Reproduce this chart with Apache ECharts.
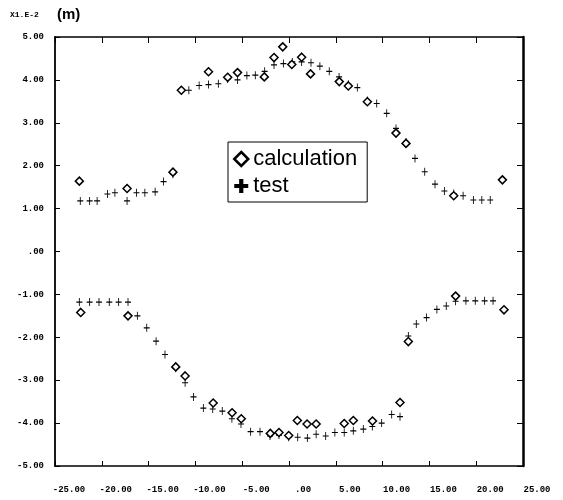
<!DOCTYPE html>
<html>
<head>
<meta charset="utf-8">
<script src="https://cdn.jsdelivr.net/npm/echarts@6/dist/echarts.min.js"></script>
<style>html,body{margin:0;padding:0;background:#fff}#c{width:563px;height:500px}</style>
</head>
<body>
<div id="c"></div>
<script>
// ---- data (x in axis units, y in X1.E-2 m) ----
var calcUpperX = [-22.4, -17.3, -12.4, -11.5, -8.6, -6.55, -5.5, -2.64, -1.6, -0.67, 0.3, 1.35, 2.3, 5.37, 6.34, 8.37, 11.43, 12.5, 17.6, 22.8];
var calcUpperY = [1.64, 1.47, 1.85, 3.76, 4.19, 4.06, 4.17, 4.07, 4.52, 4.77, 4.36, 4.53, 4.14, 3.96, 3.86, 3.49, 2.76, 2.52, 1.30, 1.67];
var calcLowerX = [-22.25, -17.2, -12.1, -11.1, -8.1, -6.08, -5.1, -2.0, -1.07, -0.03, 0.89, 1.93, 2.9, 5.9, 6.87, 8.92, 11.86, 12.75, 17.8, 22.97];
var calcLowerY = [-1.42, -1.50, -2.69, -2.90, -3.53, -3.76, -3.90, -4.24, -4.22, -4.29, -3.94, -4.02, -4.02, -4.01, -3.94, -3.95, -3.52, -2.10, -1.04, -1.36];
var testUpperX = [-22.3, -21.3, -20.5, -19.4, -18.6, -17.3, -16.3, -15.4, -14.3, -13.4, -12.4, -11.5, -10.7, -9.6, -8.6, -7.55, -6.55, -5.5, -4.5, -3.6, -2.6, -1.6, -0.6, 0.35, 1.35, 2.35, 3.3, 4.3, 5.35, 6.34, 7.3, 8.37, 9.37, 10.44, 11.43, 12.5, 13.46, 14.5, 15.6, 16.6, 17.6, 18.6, 19.7, 20.6, 21.5];
var testUpperY = [1.18, 1.18, 1.18, 1.34, 1.37, 1.18, 1.37, 1.37, 1.39, 1.63, 1.80, 3.76, 3.76, 3.87, 3.89, 3.91, 4.02, 4.00, 4.10, 4.11, 4.20, 4.35, 4.38, 4.42, 4.42, 4.40, 4.32, 4.20, 4.07, 3.90, 3.82, 3.52, 3.45, 3.22, 2.87, 2.55, 2.17, 1.86, 1.57, 1.41, 1.35, 1.30, 1.20, 1.20, 1.20];
var testLowerX = [-22.4, -21.3, -20.3, -19.2, -18.2, -17.2, -16.2, -15.2, -14.2, -13.25, -12.1, -11.1, -10.2, -9.15, -8.15, -7.13, -6.1, -5.13, -4.1, -3.1, -2.03, -1.07, -0.03, 0.93, 1.96, 2.9, 3.92, 4.9, 5.9, 6.87, 7.94, 8.9, 9.9, 10.97, 11.86, 12.75, 13.6, 14.7, 15.8, 16.8, 17.8, 18.9, 19.9, 20.9, 21.8];
var testLowerY = [-1.18, -1.18, -1.18, -1.18, -1.18, -1.18, -1.50, -1.78, -2.09, -2.40, -2.72, -3.06, -3.39, -3.65, -3.67, -3.72, -3.90, -4.02, -4.20, -4.20, -4.30, -4.28, -4.33, -4.33, -4.35, -4.26, -4.30, -4.22, -4.22, -4.18, -4.14, -4.08, -4.00, -3.80, -3.85, -1.97, -1.69, -1.54, -1.35, -1.27, -1.16, -1.15, -1.15, -1.15, -1.15];
var seriesNames = ['calculation', 'test'];

function pairs(xs, ys) { return xs.map(function (x, i) { return [x, ys[i]]; }); }
var calcData = pairs(calcUpperX, calcUpperY).concat(pairs(calcLowerX, calcLowerY));
var testData = pairs(testUpperX, testUpperY).concat(pairs(testLowerX, testLowerY));

function fmt(v) { return v === 0 ? '.00' : v.toFixed(2); }
var plusThin = 'path://M4.3,0 L5.7,0 L5.7,4.3 L10,4.3 L10,5.7 L5.7,5.7 L5.7,10 L4.3,10 L4.3,5.7 L0,5.7 L0,4.3 L4.3,4.3 Z';
var plusBold = 'path://M3.5,0 L6.5,0 L6.5,3.5 L10,3.5 L10,6.5 L6.5,6.5 L6.5,10 L3.5,10 L3.5,6.5 L0,6.5 L0,3.5 L3.5,3.5 Z';
var labelFont = { color: '#000', fontFamily: 'Liberation Mono', fontWeight: 'bold', fontSize: 9 };

var chart = echarts.init(document.getElementById('c'));
chart.setOption({
  backgroundColor: '#fff',
  animation: false,
  grid: { left: 55, right: 40, top: 37, bottom: 34 },
  graphic: [
    { type: 'text', left: 10, top: 11, style: { text: 'X1.E-2', fill: '#000', font: 'bold 8px "Liberation Mono"' } },
    { type: 'text', left: 57, top: 7, style: { text: '(m)', fill: '#000', font: 'bold 15px "Liberation Sans"' } }
  ],
  legend: {
    orient: 'vertical', left: 228, top: 142,
    backgroundColor: '#fff', borderColor: '#000', borderWidth: 1,
    padding: [6, 10, 5, 5], itemGap: 5, itemWidth: 14, itemHeight: 14,
    textStyle: { color: '#000', fontFamily: 'Liberation Sans', fontSize: 22 },
    data: [
      { name: seriesNames[0], icon: 'diamond', itemStyle: { color: '#fff', borderColor: '#000', borderWidth: 2.5 } },
      { name: seriesNames[1], icon: plusBold, itemStyle: { color: '#000', borderWidth: 0 } }
    ]
  },
  xAxis: [
    {
      type: 'value', min: -25, max: 25, interval: 5, position: 'bottom',
      axisLine: { onZero: false, lineStyle: { color: '#000', width: 1.5 } },
      axisTick: { inside: true, length: 5, lineStyle: { color: '#000' } },
      splitLine: { show: false },
      axisLabel: Object.assign({ formatter: fmt, margin: 19, align: 'center', padding: [0, 0, 0, 28] }, labelFont)
    },
    {
      type: 'value', min: -25, max: 25, interval: 5, position: 'top',
      axisLine: { onZero: false, lineStyle: { color: '#000', width: 1.5 } },
      axisTick: { inside: true, length: 6, lineStyle: { color: '#000' } },
      splitLine: { show: false }, axisLabel: { show: false }
    }
  ],
  yAxis: [
    {
      type: 'value', min: -5, max: 5, interval: 1, position: 'left',
      axisLine: { show: true, onZero: false, lineStyle: { color: '#000', width: 1.8 } },
      axisTick: { show: true, inside: true, length: 5, lineStyle: { color: '#000' } },
      splitLine: { show: false },
      axisLabel: Object.assign({ formatter: fmt, margin: 11, padding: [0, 0, 5, 0] }, labelFont)
    },
    {
      type: 'value', min: -5, max: 5, interval: 1, position: 'right',
      axisLine: { show: true, onZero: false, lineStyle: { color: '#000', width: 2.5 } },
      axisTick: { show: true, inside: true, length: 6, lineStyle: { color: '#000' } },
      splitLine: { show: false }, axisLabel: { show: false }
    }
  ],
  series: [
    {
      name: seriesNames[0], type: 'scatter', data: calcData, symbol: 'diamond', symbolSize: [8, 8], z: 3,
      itemStyle: { color: '#fff', borderColor: '#000', borderWidth: 1.5, opacity: 1 }
    },
    {
      name: seriesNames[1], type: 'scatter', data: testData, symbol: plusThin, symbolSize: [6, 8], z: 2,
      itemStyle: { color: '#000', opacity: 1 }
    }
  ]
});
</script>
</body>
</html>
